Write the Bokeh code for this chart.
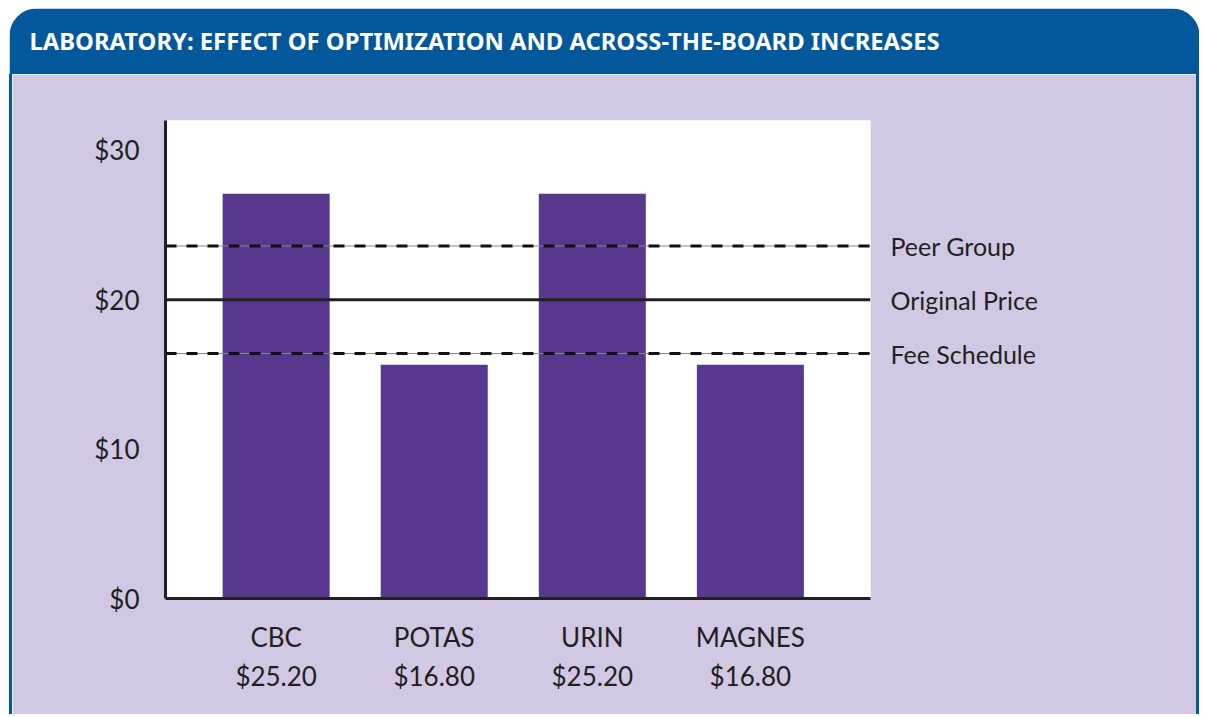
from bokeh.plotting import figure
from bokeh.layouts import row, column
from bokeh.models import (Range1d, FixedTicker, PrintfTickFormatter, BoxAnnotation, Span, Label,
                          LinearAxis, Spacer)
from bokeh.embed import file_html
from bokeh.resources import INLINE

# ---- data ----
title_text = "LABORATORY: EFFECT OF OPTIMIZATION AND ACROSS-THE-BOARD INCREASES"
categories = ["CBC", "POTAS", "URIN", "MAGNES"]
price_labels = ["$25.20", "$16.80", "$25.20", "$16.80"]
bar_values = [27.1, 15.65, 27.1, 15.65]
ref_names = ["Peer Group", "Original Price", "Fee Schedule"]
ref_values = [23.6, 20.0, 16.4]
y_ticks = [0, 10, 20, 30]

# ---- style ----
BLUE = "#03579B"
LILAC = "#D1C9E3"
BAR = "#58378F"
INK = "#231F20"
FONT = "Lato"
FS = "26px"
dashed_lines = {"Peer Group", "Fee Schedule"}

CARD_W = 1190          # blue header / card width
HEAD_H = 74            # header figure height (incl. 8px white top)
MAIN_W, MAIN_H = CARD_W - 6, 640
X0, X1 = -0.70, 3.76
Y0, Y1 = 0, 32


def plain(fig):
    fig.outline_line_color = None
    fig.grid.visible = False
    return fig


# ---- header ----
head = plain(figure(width=CARD_W, height=HEAD_H, x_range=Range1d(0, CARD_W), y_range=Range1d(0, HEAD_H - 8),
                    output_backend="svg", toolbar_location=None, x_axis_location=None, y_axis_location=None,
                    min_border_top=8, min_border_left=0, min_border_right=0, min_border_bottom=0))
head.border_fill_color = "white"
head.background_fill_color = "white"
head.add_layout(BoxAnnotation(left=0, right=CARD_W, bottom=-40, top=HEAD_H - 8,
                              fill_color=BLUE, fill_alpha=1, line_color=None,
                              border_radius=(27, 27, 0, 0)))
head.add_layout(Label(x=20, y=(HEAD_H - 8) / 2 + 1, text=title_text, text_baseline="middle",
                      text_color="white", text_font="Noto Sans", text_font_style="bold",
                      text_font_size="23.8px"))

# ---- main chart ----
p = plain(figure(width=MAIN_W, height=MAIN_H, x_range=Range1d(X0, X1), y_range=Range1d(Y0, Y1),
                 output_backend="svg", toolbar_location=None,
                 min_border_left=153, min_border_right=326, min_border_top=46, min_border_bottom=116))
p.border_fill_color = LILAC
p.background_fill_color = "white"

xs = list(range(len(categories)))
p.vbar(x=xs, top=bar_values, width=0.677, fill_color=BAR, line_color=None)

for name, val in zip(ref_names, ref_values):
    if name in dashed_lines:
        p.add_layout(Span(location=val, dimension="width", line_color="#8a8a8a", line_width=1))
        p.add_layout(Span(location=val, dimension="width", line_color="#111111", line_width=3,
                          line_dash="11 10"))
    else:
        p.add_layout(Span(location=val, dimension="width", line_color=INK, line_width=3))

ref_axis = LinearAxis(ticker=FixedTicker(ticks=ref_values),
                      major_label_overrides={v: n for v, n in zip(ref_values, ref_names)})
p.add_layout(ref_axis, "right")

for ax in (p.xaxis[0], p.yaxis[0], ref_axis):
    ax.axis_line_color = INK
    ax.axis_line_width = 3
    ax.major_tick_line_color = None
    ax.minor_tick_line_color = None
    ax.major_tick_out = 0
    ax.major_tick_in = 0
    ax.major_label_text_font = FONT
    ax.major_label_text_font_size = FS
    ax.major_label_text_color = INK

ref_axis.axis_line_color = None
ref_axis.major_label_standoff = 20
ref_axis.major_label_text_font_size = "25px"

p.yaxis[0].ticker = FixedTicker(ticks=y_ticks)
p.yaxis[0].formatter = PrintfTickFormatter(format="$%d")
p.yaxis[0].major_label_standoff = 26

p.xaxis.ticker = FixedTicker(ticks=xs)
p.xaxis.major_label_overrides = {i: f"{c}\n{pr}" for i, c, pr in zip(xs, categories, price_labels)}
p.xaxis.major_label_standoff = 22
p.xaxis.major_label_text_line_height = 1.22


def strip():
    return Spacer(width=3, height=MAIN_H, styles={"background-color": BLUE})


layout = row(Spacer(width=9, height=HEAD_H + MAIN_H),
             column(head, row(strip(), p, strip())))

open("out.html", "w").write(file_html(layout, INLINE))
